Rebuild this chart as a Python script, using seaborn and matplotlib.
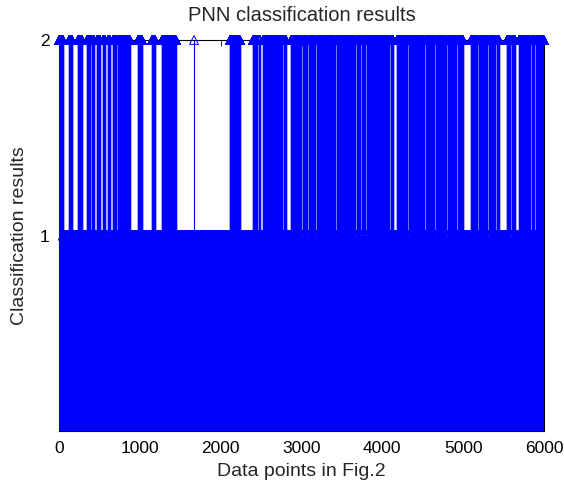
import numpy as np
import pandas as pd
import matplotlib
matplotlib.use("Agg")
import matplotlib.pyplot as plt
import seaborn as sns

# ---- data ----
n_points = 6000
# index ranges (inclusive) where the PNN output is class 2; everything else is class 1
class2_start = [1, 124, 235, 346, 408, 470, 544, 606, 668, 730, 779, 977, 1150, 1274,
                1670, 2115, 2177, 2400, 2474, 2524, 2783, 2870, 3019, 3093, 3192, 3439,
                3687, 3748, 3810, 4107, 4181, 4256, 4330, 4540, 4664, 4812, 4874, 4936,
                5097, 5196, 5258, 5320, 5419, 5542, 5604, 5691, 5852, 5901, 5938]
class2_end = [50, 161, 285, 384, 433, 507, 569, 631, 705, 767, 878, 1027, 1188, 1447,
              1670, 2165, 2239, 2449, 2486, 2759, 2808, 2994, 3068, 3167, 3414, 3662,
              3724, 3786, 4082, 4132, 4243, 4305, 4515, 4639, 4788, 4862, 4911, 4998,
              5171, 5245, 5295, 5394, 5443, 5580, 5641, 5827, 5876, 5926, 6000]
x_ticks = [0, 1000, 2000, 3000, 4000, 5000, 6000]
y_ticks = [1, 2]
title_text = "PNN classification results"
x_label = "Data points in Fig.2"
y_label = "Classification results"

idx = np.arange(1, n_points + 1)
cls = np.ones(n_points)
for s, e in zip(class2_start, class2_end):
    cls[s - 1:e] = 2
df = pd.DataFrame({"point": idx, "cls": cls})

sns.set_style("white")
plt.rcParams["font.family"] = ["Liberation Sans", "DejaVu Sans"]

fig = plt.figure(figsize=(5.64, 4.86), dpi=100)
ax = fig.add_axes([59 / 564, 1 - 431 / 486, 485 / 564, 391 / 486])

ax.vlines(df["point"], 0, df["cls"], color="#0000ff", linewidth=0.8, zorder=2)
sns.scatterplot(data=df, x="point", y="cls", marker="^", s=40,
                facecolor="none", edgecolor="#0000ff", linewidth=0.7,
                clip_on=False, zorder=3, ax=ax, legend=False)

ax.set_xlim(0, 6000)
ax.set_ylim(0, 2)
ax.set_xticks(x_ticks)
ax.set_yticks(y_ticks)
ax.tick_params(direction="in", top=True, right=True, length=4, width=0.6,
               labelsize=12.5, colors="black")
ax.tick_params(axis="x", pad=7)
ax.tick_params(axis="y", pad=7)
for sp in ax.spines.values():
    sp.set_visible(True)
    sp.set_color("black")
    sp.set_linewidth(0.8)
    sp.set_zorder(1)
ax.set_title(title_text, fontsize=14.5, pad=14)
ax.set_xlabel(x_label, fontsize=14, labelpad=5)
ax.set_ylabel(y_label, fontsize=14, labelpad=8)

fig.savefig("out.png", dpi=100)
